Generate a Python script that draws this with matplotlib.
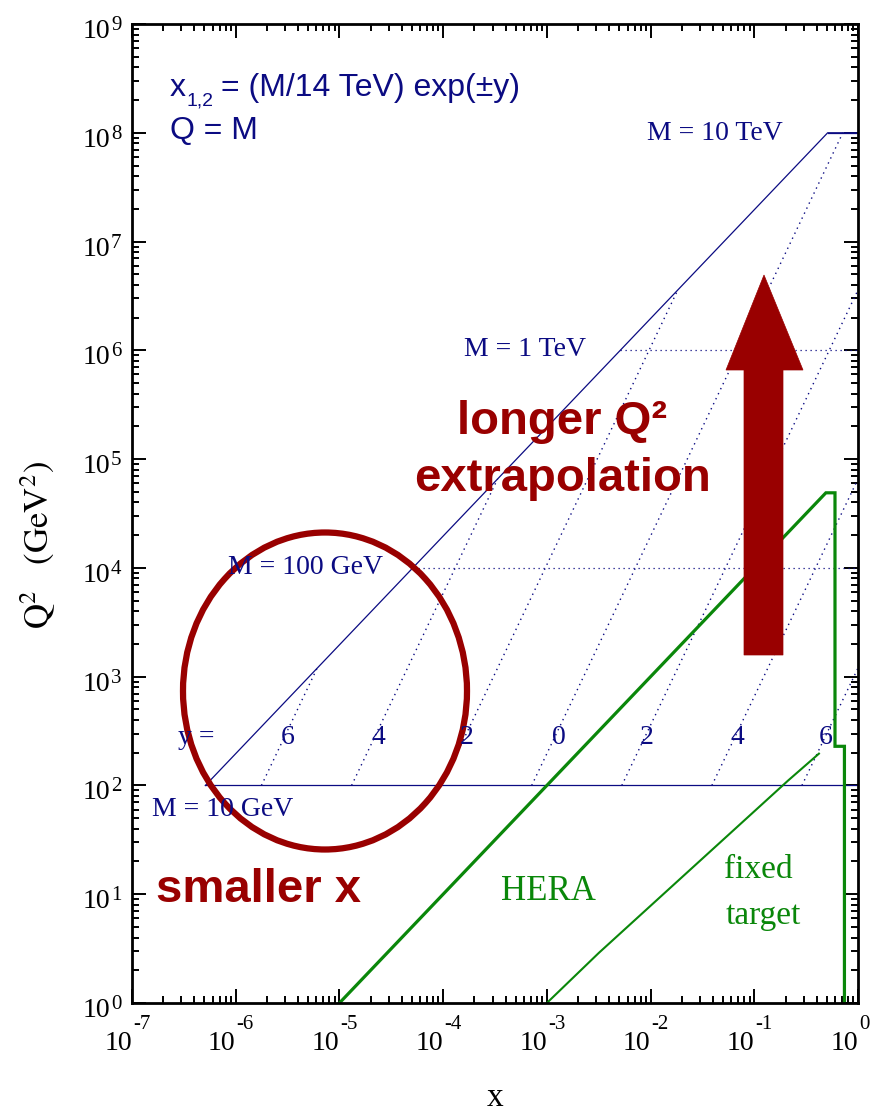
import numpy as np
import matplotlib
matplotlib.use('Agg')
import matplotlib.pyplot as plt
from matplotlib.patches import Ellipse, Polygon
from matplotlib.ticker import LogLocator, NullFormatter, FixedLocator

# ---------------- data ----------------
rapidity_labels = ['6', '4', '2', '0', '2', '4', '6']
rap_x_start = [1.77e-6, 1.31e-5, 9.67e-5, 7.14e-4, 5.28e-3, 3.90e-2, 2.88e-1]
rap_q2_start = [1e2, 1e2, 1e2, 1e2, 1e2, 1e2, 1e2]
rap_x_end = [6.1e-6, 3.35e-4, 1.83e-2, 0.714, 1.0, 1.0, 1.0]
rap_q2_end = [1.2e3, 6.57e4, 3.59e6, 1.0e8, 3.59e6, 6.57e4, 1.2e3]

mass_labels = ['M = 10 GeV', 'M = 100 GeV', 'M = 1 TeV', 'M = 10 TeV']
mass_q2 = [1e2, 1e4, 1e6, 1e8]
mass_x_min = [5.1e-7, 5.1e-5, 5.1e-3, 0.51]
mass_x_max = [1.0, 1.0, 1.0, 1.0]

lhc_edge_x = [5.1e-7, 0.51, 1.0]
lhc_edge_q2 = [1e2, 1e8, 1e8]

hera_x = [1e-5, 0.49, 0.60, 0.60, 0.74, 0.74]
hera_q2 = [1.0, 4.9e4, 4.9e4, 229, 229, 1.0]

fixed_x = [1e-3, 3.16e-3, 0.212, 0.42]
fixed_q2 = [1.0, 2.88, 111, 196]

x_ticks = [1e-7, 1e-6, 1e-5, 1e-4, 1e-3, 1e-2, 1e-1, 1e0]
x_tick_exponents = ['-7', '-6', '-5', '-4', '-3', '-2', '-1', '0']
y_ticks = [1e0, 1e1, 1e2, 1e3, 1e4, 1e5, 1e6, 1e7, 1e8, 1e9]
y_tick_exponents = ['0', '1', '2', '3', '4', '5', '6', '7', '8', '9']

# ---------------- styling ----------------
W, H = 874, 1113
NAVY = '#0b0b82'
GREEN = '#0a870a'
MAROON = '#990000'
plt.rcParams['mathtext.fontset'] = 'stix'
plt.rcParams['font.family'] = ['Liberation Serif', 'DejaVu Serif']

fig = plt.figure(figsize=(W / 100, H / 100), dpi=100)
L, R, T, B = 132, 858, 24, 1003
ax = fig.add_axes([L / W, 1 - B / H, (R - L) / W, (B - T) / H])
ax.set_xscale('log')
ax.set_yscale('log')
ax.set_xlim(1e-7, 1)
ax.set_ylim(1, 1e9)


def P(px, py):
    return (px / W, 1 - py / H)


# LHC edge and mass lines
ax.plot(lhc_edge_x, lhc_edge_q2, color=NAVY, lw=0.9)
for i, (q2, x0, x1) in enumerate(zip(mass_q2, mass_x_min, mass_x_max)):
    ls = '-' if i in (0, 3) else (0, (1, 3))
    ax.plot([x0, x1], [q2, q2], color=NAVY, lw=0.9, ls=ls)

# rapidity lines
for xs, qs, xe, qe in zip(rap_x_start, rap_q2_start, rap_x_end, rap_q2_end):
    ax.plot([xs, xe], [qs, qe], color=NAVY, lw=1.0, ls=(0, (1, 3)))

# HERA and fixed target
ax.plot(hera_x, hera_q2, color=GREEN, lw=2.3, solid_joinstyle='miter')
ax.plot(fixed_x, fixed_q2, color=GREEN, lw=1.5)

# axes styling
for s in ax.spines.values():
    s.set_linewidth(2)
ax.xaxis.set_major_locator(FixedLocator(x_ticks))
ax.yaxis.set_major_locator(FixedLocator(y_ticks))
ax.xaxis.set_minor_locator(LogLocator(base=10, subs=np.arange(2, 10), numticks=20))
ax.yaxis.set_minor_locator(LogLocator(base=10, subs=np.arange(2, 10), numticks=20))
for a in (ax.xaxis, ax.yaxis):
    a.set_major_formatter(NullFormatter())
    a.set_minor_formatter(NullFormatter())
ax.tick_params(which='both', direction='in', top=True, right=True, width=1.4)
ax.tick_params(which='major', length=10)
ax.tick_params(which='minor', length=5)

# manual tick labels: "10" with a raised exponent (hyphen style)
fig.canvas.draw()
for xv, ex in zip(x_ticks, x_tick_exponents):
    px = ax.transData.transform((xv, 1))[0]
    fx = px / W
    fig.text(fx, 1 - 1050 / H, '10', fontsize=20, ha='right', va='baseline')
    fig.text(fx + 1 / W, 1 - 1029 / H, ex, fontsize=15, ha='left', va='baseline')
for yv, ex in zip(y_ticks, y_tick_exponents):
    py_up = ax.transData.transform((1e-7, yv))[1]
    py = H - py_up
    fig.text(110 / W, 1 - (py + 14) / H, '10', fontsize=20, ha='right', va='baseline')
    fig.text(111 / W, 1 - (py + 6) / H, ex, fontsize=15, ha='left', va='baseline')

fig.text(*P(495, 1098), 'x', fontsize=24, ha='center', va='center')
fig.text(*P(38, 545), r'$\mathrm{Q}^2\ \ \ (\mathrm{GeV}^2)$', fontsize=25,
         rotation=90, ha='center', va='center')

# labels
sans = ['Liberation Sans', 'DejaVu Sans']
fig.text(*P(170, 88), 'x', fontsize=23, color=NAVY, family=sans, ha='left', va='center')
fig.text(*P(187, 101), '1,2', fontsize=14, color=NAVY, family=sans, ha='left', va='center')
fig.text(*P(221, 88), '= (M/14 TeV) exp(\u00b1y)', fontsize=23, color=NAVY, family=sans,
         ha='left', va='center')
fig.text(*P(170, 131), 'Q = M', fontsize=23, color=NAVY, family=sans, ha='left', va='center')

mass_label_pos = [(223, 810), (306, 567), (525, 350), (715, 133)]
for lab, (px, py) in zip(mass_labels, mass_label_pos):
    fig.text(*P(px, py), lab, fontsize=20, color=NAVY, ha='center', va='center')

fig.text(*P(196, 738), 'y =', fontsize=20, color=NAVY, ha='center', va='center')
rap_label_px = [288, 378, 467, 559, 647, 737, 826]
for lab, px in zip(rapidity_labels, rap_label_px):
    fig.text(*P(px, 738), lab, fontsize=20, color=NAVY, ha='center', va='center')

fig.text(*P(548, 892), 'HERA', fontsize=25, color=GREEN, ha='center', va='center')
fig.text(*P(758, 870), 'fixed', fontsize=24, color=GREEN, ha='center', va='center')
fig.text(*P(763, 916), 'target', fontsize=24, color=GREEN, ha='center', va='center')

# annotations
fig.text(*P(562, 422), 'longer Q\u00b2', fontsize=34, color=MAROON, family=sans,
         weight='bold', ha='center', va='center')
fig.text(*P(563, 479), 'extrapolation', fontsize=34, color=MAROON, family=sans,
         weight='bold', ha='center', va='center')
fig.text(*P(259, 890), 'smaller x', fontsize=34, color=MAROON, family=sans,
         weight='bold', ha='center', va='center')

arrow_px = [(744, 655), (744, 370), (726, 370), (764, 275), (803, 370), (783, 370), (783, 655)]
fig.add_artist(Polygon([P(a, b) for a, b in arrow_px], closed=True,
                       facecolor=MAROON, edgecolor=MAROON, lw=0.5,
                       transform=fig.transFigure))

fig.add_artist(Ellipse(P(325, 691), 284 / W, 317 / H, fill=False,
                       edgecolor=MAROON, lw=4.5, transform=fig.transFigure))

fig.savefig('out.png', dpi=100)
